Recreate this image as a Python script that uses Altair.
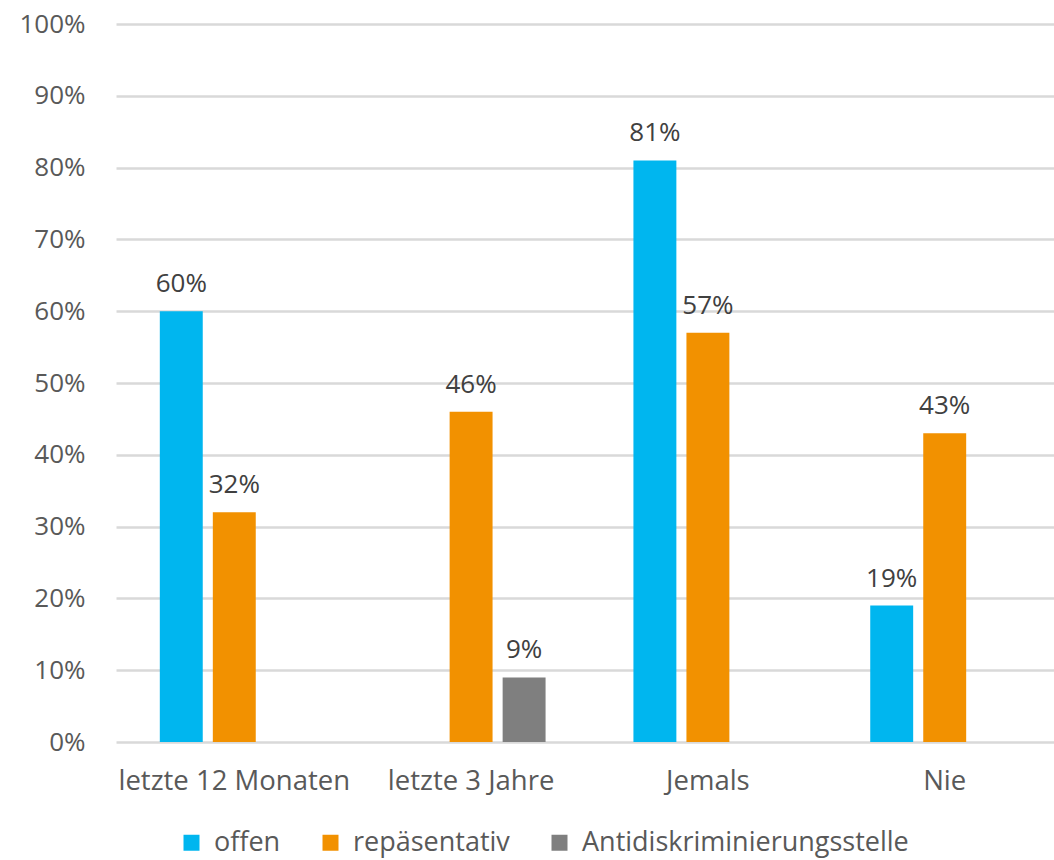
import altair as alt
import pandas as pd

categories = ["letzte 12 Monaten", "letzte 3 Jahre", "Jemals", "Nie"]
series = ["offen", "repäsentativ", "Antidiskriminierungsstelle"]
offen = [60, None, 81, 19]
repraesentativ = [32, 46, 57, 43]
antidisk = [None, 9, None, None]
colors = ["#00B6EF", "#F29100", "#7F7F7F"]

rows = []
for s, vals in zip(series, [offen, repraesentativ, antidisk]):
    for c, v in zip(categories, vals):
        if v is not None:
            rows.append({"Kategorie": c, "Serie": s, "Wert": v / 100})
df = pd.DataFrame(rows)

FONT = "Open Sans"
TXT = "#595959"

x = alt.X("Kategorie:N", sort=categories, title=None,
          scale=alt.Scale(domain=categories, range=[0, 947], paddingInner=0.371, paddingOuter=0.185),
          axis=alt.Axis(labelAngle=0, labelFontSize=27.5, labelColor=TXT, labelFont=FONT,
                        labelPadding=25, ticks=False, domain=False, labelLimit=400))
xo = alt.XOffset("Serie:N", sort=series,
                 scale=alt.Scale(domain=series, paddingInner=0.19, paddingOuter=0))
y = alt.Y("Wert:Q", title=None,
          scale=alt.Scale(domain=[0, 1], nice=False),
          axis=alt.Axis(format=".0%", values=[i / 10 for i in range(11)], labelFontSize=26,
                        labelColor=TXT, labelFont=FONT, labelPadding=31, ticks=False,
                        domain=False, gridColor="#D9D9D9", gridWidth=2.5))

color = alt.Color("Serie:N", sort=series,
                  scale=alt.Scale(domain=series, range=colors),
                  legend=alt.Legend(title=None, orient="none", direction="horizontal",
                                    legendX=62, legendY=805, columns=3,
                                    symbolType="square", symbolSize=256, symbolStrokeWidth=0,
                                    labelFontSize=27, labelFont=FONT, labelColor=TXT,
                                    labelOffset=9, columnPadding=36, labelLimit=600, padding=0))

base = alt.Chart(df)
bars = base.mark_bar().encode(x=x, xOffset=xo, y=y, color=color)
labels = base.mark_text(baseline="alphabetic", dy=-19, fontSize=26, font=FONT, color="#404040").encode(
    x=x, xOffset=xo, y=y, text=alt.Text("Wert:Q", format=".0%"))

chart = (bars + labels).properties(
    width=938, height=718,
    autosize=alt.AutoSizeParams(type="none"),
    padding={"left": 116, "top": 24, "right": 0, "bottom": 118},
).configure_view(stroke=None)

chart.save("out.html", embed_options={"renderer": "svg", "actions": False})
